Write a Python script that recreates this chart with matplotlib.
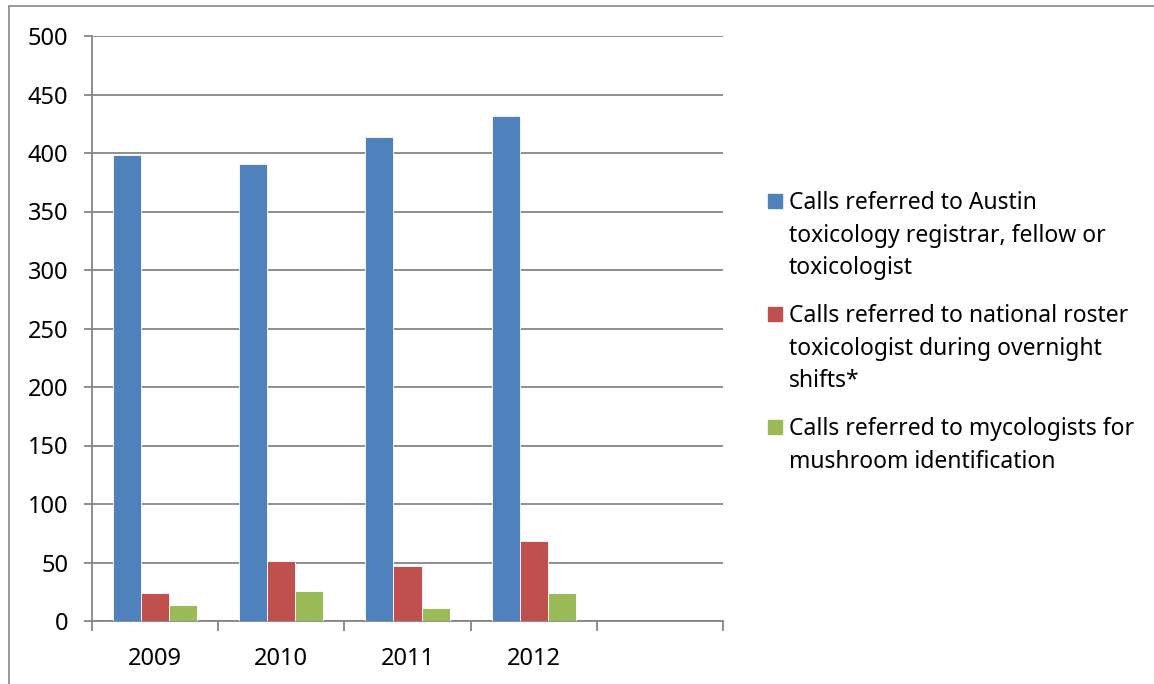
import numpy as np
import matplotlib
matplotlib.use('Agg')
import matplotlib.pyplot as plt
from matplotlib.patches import Rectangle

plt.rcParams['font.family'] = ['Noto Sans', 'DejaVu Sans']

# Data
years = ['2009', '2010', '2011', '2012', '']
austin = [398, 391, 414, 432, 0]
national = [24, 51, 47, 68, 0]
mycologists = [14, 26, 11, 24, 0]
series_labels = ['Calls referred to Austin\ntoxicology registrar, fellow or\ntoxicologist',
                 'Calls referred to national roster\ntoxicologist during overnight\nshifts*',
                 'Calls referred to mycologists for\nmushroom identification']
colors = ['#4F81BD', '#C0504D', '#9BBB59']
yticks = np.arange(0, 501, 50)

fig = plt.figure(figsize=(11.54, 6.84), dpi=100)
ax = fig.add_axes([92 / 1154, 1 - 621 / 684, 631 / 1154, 585 / 684])

x = np.arange(len(years))
w = 1 / 4.5
grid_col = '#868686'
for i, (vals, c) in enumerate(zip([austin, national, mycologists], colors)):
    ax.bar(x + (i - 1) * w, vals, width=w, color=c, edgecolor='white',
           linewidth=0.6, zorder=3)

ax.set_xlim(-0.5, len(years) - 0.5)
ax.set_ylim(0, 500)
ax.set_yticks(yticks)
ax.set_yticklabels([str(v) for v in yticks])
ax.yaxis.grid(True, color=grid_col, linewidth=1.3, zorder=0)
ax.set_axisbelow(True)

ax.set_xticks(x)
ax.set_xticklabels(years)
ax.set_xticks(np.arange(len(years) + 1) - 0.5, minor=True)
ax.tick_params(axis='x', which='major', length=0, pad=19, labelsize=17)
ax.tick_params(axis='x', which='minor', length=7, width=1.3, color=grid_col)
ax.tick_params(axis='y', length=6, width=1.3, color=grid_col, pad=11, labelsize=17)

for s in ['top', 'right']:
    ax.spines[s].set_visible(False)
for s in ['left', 'bottom']:
    ax.spines[s].set_color(grid_col)
    ax.spines[s].set_linewidth(1.3)

# Legend drawn by hand so the swatches sit on the first line
ys = [201, 314, 427]
for lab, c, yp in zip(series_labels, colors, ys):
    fig.patches.append(Rectangle((768 / 1154, 1 - (yp + 7) / 684), 14 / 1154, 14 / 684,
                                 transform=fig.transFigure, color=c))
    fig.text(789 / 1154, 1 - (yp - 10) / 684, lab, fontsize=16.5, va='top', ha='left',
             linespacing=1.48)

# chart frame
fig.patches.append(Rectangle((9 / 1154, -0.1), 1.2, 1.1 - 6 / 684, transform=fig.transFigure,
                             fill=False, edgecolor=grid_col, linewidth=1.2))

fig.savefig('out.png', dpi=100)
